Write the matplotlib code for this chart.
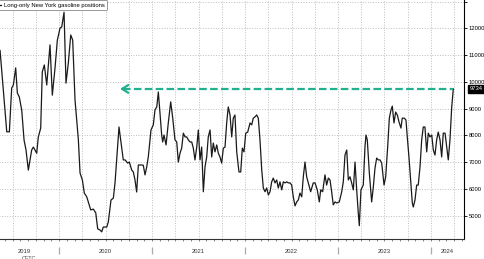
import numpy as np
import matplotlib.pyplot as plt
from matplotlib import transforms

plt.rcParams['font.family'] = ['Liberation Sans', 'DejaVu Sans']

# weekly readings, time as decimal year
weeks = [
    2019.366, 2019.438, 2019.466, 2019.491, 2019.509, 2019.534, 2019.552, 2019.573, 2019.599, 2019.624,
    2019.645, 2019.670, 2019.706, 2019.724, 2019.760, 2019.777, 2019.803, 2019.820, 2019.842, 2019.868,
    2019.903, 2019.928, 2019.957, 2019.982, 2020.011, 2020.029, 2020.054, 2020.075, 2020.100, 2020.126,
    2020.147, 2020.172, 2020.208, 2020.226,
    2020.251, 2020.272, 2020.298, 2020.315, 2020.341, 2020.369, 2020.395, 2020.416, 2020.441, 2020.459,
    2020.476, 2020.513, 2020.530, 2020.559, 2020.584, 2020.602, 2020.620, 2020.645, 2020.663, 2020.691,
    2020.710, 2020.739, 2020.756, 2020.782, 2020.799, 2020.817, 2020.835, 2020.853, 2020.889, 2020.906,
    2020.925, 2020.943, 2020.960, 2020.989,
    2021.014, 2021.032, 2021.051, 2021.068, 2021.086, 2021.104, 2021.115, 2021.129, 2021.151, 2021.175,
    2021.201, 2021.223, 2021.247, 2021.266, 2021.283, 2021.301, 2021.319, 2021.337, 2021.355, 2021.373,
    2021.390, 2021.409, 2021.427, 2021.444, 2021.462, 2021.481, 2021.498, 2021.516, 2021.534, 2021.552,
    2021.570, 2021.588, 2021.605, 2021.624, 2021.642, 2021.659, 2021.677, 2021.696, 2021.713, 2021.731,
    2021.749, 2021.767, 2021.785, 2021.803,
    2021.820, 2021.839, 2021.857, 2021.874, 2021.892, 2021.911, 2021.935, 2021.954, 2021.971, 2021.989,
    2022.008, 2022.029, 2022.054, 2022.072, 2022.089, 2022.108, 2022.126, 2022.143, 2022.161, 2022.180,
    2022.197, 2022.215, 2022.233, 2022.251, 2022.269, 2022.287, 2022.304, 2022.323, 2022.341, 2022.358,
    2022.376, 2022.395, 2022.412, 2022.430, 2022.448, 2022.466, 2022.484, 2022.502, 2022.519, 2022.538,
    2022.556, 2022.573, 2022.591,
    2022.610, 2022.627, 2022.645, 2022.663, 2022.681, 2022.706, 2022.734, 2022.753, 2022.777, 2022.799,
    2022.814, 2022.835, 2022.860, 2022.878, 2022.896, 2022.914, 2022.932, 2022.949, 2022.968, 2022.986,
    2023.014, 2023.040, 2023.057, 2023.075, 2023.094, 2023.111, 2023.129, 2023.147, 2023.165, 2023.183,
    2023.201, 2023.218, 2023.229, 2023.247, 2023.272, 2023.290, 2023.301, 2023.315, 2023.337, 2023.362,
    2023.380, 2023.398, 2023.416, 2023.433, 2023.452, 2023.470, 2023.495, 2023.513, 2023.534, 2023.552,
    2023.570, 2023.584, 2023.602, 2023.620, 2023.638, 2023.656, 2023.677, 2023.691, 2023.713, 2023.731,
    2023.745, 2023.763, 2023.782, 2023.799, 2023.810, 2023.828, 2023.846, 2023.863, 2023.882, 2023.900,
    2023.917, 2023.935, 2023.954, 2023.971, 2023.989, 2024.008, 2024.025, 2024.043, 2024.061, 2024.078,
    2024.097, 2024.115, 2024.132, 2024.151, 2024.169, 2024.186, 2024.204, 2024.223, 2024.240,
]
positions = [
    11170, 8130, 8130, 9770, 9880, 10520, 9580, 9430, 8940, 7820,
    7450, 6700, 7450, 7560, 7330, 7930, 8270, 10370, 10630, 9880,
    11380, 9500, 10520, 11560, 12010, 12050, 12600, 9950, 10700, 11750,
    11560, 9320, 7830, 6590,
    6330, 5840, 5700, 5510, 5210, 5240, 5100, 4500, 4460, 4390,
    4570, 4570, 4760, 5580, 5650, 6210, 7080, 8310, 7830, 7080,
    7080, 6960, 7000, 6700, 6630, 6330, 5880, 6890, 6890, 6880,
    6520, 6820, 7190, 8200,
    8390, 8950, 9060, 9620, 8830, 8010, 7750, 8010, 7640, 8460,
    9250, 8640, 7830, 7750, 7000, 7330, 7520, 8080, 7940, 7940,
    7830, 7750, 7750, 7520, 7080, 7560, 8200, 7080, 7560, 5890,
    6820, 7190, 7940, 8200, 7190, 7710, 7380, 7640, 7330, 7190,
    6960, 7520, 7560, 8460,
    9060, 8760, 7940, 8640, 8760, 7380, 6630, 6630, 7520, 7380,
    8080, 8120, 8460, 8390, 8640, 8690, 8760, 8640, 7830, 6700,
    6030, 5890, 6030, 5770, 5890, 6260, 6400, 6220, 6330, 6030,
    6260, 5960, 6260, 6220, 6260, 6220, 6220, 6140, 5700, 5360,
    5510, 5580, 5840,
    5700, 6450, 7000, 6450, 6220, 5890, 6220, 6220, 5960, 5510,
    5960, 5890, 6520, 6140, 6400, 6330, 5890, 5400, 5510, 5470,
    5510, 5890, 6260, 7260, 7450, 6330, 6450, 6220, 5960, 7000,
    5960, 5100, 4620, 5960, 6140, 7560, 8010, 7830, 6590, 5510,
    6070, 6780, 7150, 7080, 7080, 6960, 6140, 6450, 7560, 8640,
    8950, 9090, 8460, 8870, 8760, 8500, 8270, 8640, 8640, 8570,
    7940, 7190, 6260, 5470, 5320, 5580, 6140, 6140, 6820, 7830,
    8310, 8310, 7380, 8080, 7940, 8010, 7450, 7260, 7830, 8120,
    7830, 7190, 8080, 8080, 7560, 7080, 7830, 9060, 9734,
]
last_value = 9734
arrow_from = 2020.655
years = [2019, 2020, 2021, 2022, 2023, 2024]
yticks = [5000, 6000, 7000, 8000, 9000, 10000, 11000, 12000, 13000]

teal = '#22b08e'
grid_c = '#bdbdbd'

fig = plt.figure(figsize=(4.85, 2.59), dpi=100)
ax = fig.add_axes([-11 / 485, 20 / 259, 475 / 485, 239 / 259])
x0, x1 = 2019.247, 2024.355
ax.set_xlim(x0, x1)
ax.set_ylim(4123, 13058)

# grid
ax.grid(axis='y', ls=':', color=grid_c, lw=0.7)
for q in np.arange(2019.25, x1, 0.25):
    ax.axvline(q, ls=':', color=grid_c, lw=0.7, zorder=0)

ax.plot(weeks, positions, color='#1a1a1a', lw=0.9,
        label='Long-only New York gasoline positions')

# dashed line back to the previous high
ax.plot([arrow_from + 0.035, weeks[-1]], [last_value, last_value], color=teal,
        lw=1.6, dashes=(3.4, 1.5), solid_capstyle='butt')
ax.annotate('', xy=(arrow_from, last_value), xytext=(arrow_from + 0.06, last_value),
            arrowprops=dict(arrowstyle='->,head_length=0.45,head_width=0.28',
                            color=teal, lw=1.6, shrinkA=0, shrinkB=0))

# spines
for s in ['top', 'left']:
    ax.spines[s].set_visible(False)
ax.spines['right'].set_linewidth(0.8)
ax.spines['bottom'].set_linewidth(0.8)
ax.spines['bottom'].set_color('#333333')

# y axis on the right
ax.yaxis.tick_right()
ax.set_yticks(yticks)
ax.set_yticklabels([str(t) if t < 13000 else '' for t in yticks])
ax.tick_params(axis='y', direction='out', length=2, width=0.6, labelsize=4.2, pad=1.5)

# x axis: monthly ticks, year labels centred on visible span
ax.xaxis.remove_overlapping_locs = False
months = np.arange(2019.25, x1, 1 / 12)
ax.set_xticks(months)
ax.set_xticklabels([])
ax.tick_params(axis='x', which='major', direction='out', length=1.5, width=0.5, color='#555555')
mids = [(max(y, x0) + min(y + 1, x1)) / 2 for y in years]
ax.set_xticks(mids, minor=True)
ax.set_xticklabels([str(y) for y in years], minor=True)
ax.tick_params(axis='x', which='minor', length=0, pad=7, labelsize=4.2, labelcolor='#333333')

trans = transforms.blended_transform_factory(ax.transData, ax.transAxes)
ax.vlines(years[1:], -0.032, -0.063, transform=trans, color='#aaaaaa', lw=0.9, clip_on=False)

# last value box
ytr = transforms.blended_transform_factory(ax.transAxes, ax.transData)
ax.text(1.012, last_value, str(last_value), transform=ytr, ha='left', va='center',
        fontsize=4.2, color='white',
        bbox=dict(boxstyle='square,pad=0.25', fc='black', ec='black'))

leg = ax.legend(loc='upper left', bbox_to_anchor=(0.0084, 1.0), borderaxespad=0,
                fontsize=4.2, handlelength=1.0, handletextpad=0.4, borderpad=0.45,
                fancybox=True, framealpha=1, edgecolor='#888888')
leg.get_frame().set_linewidth(0.6)

fig.text(22 / 485, 3 / 259, 'CFTC', fontsize=4, color='#555555', va='top', ha='left')

fig.savefig('out.png', dpi=100)
